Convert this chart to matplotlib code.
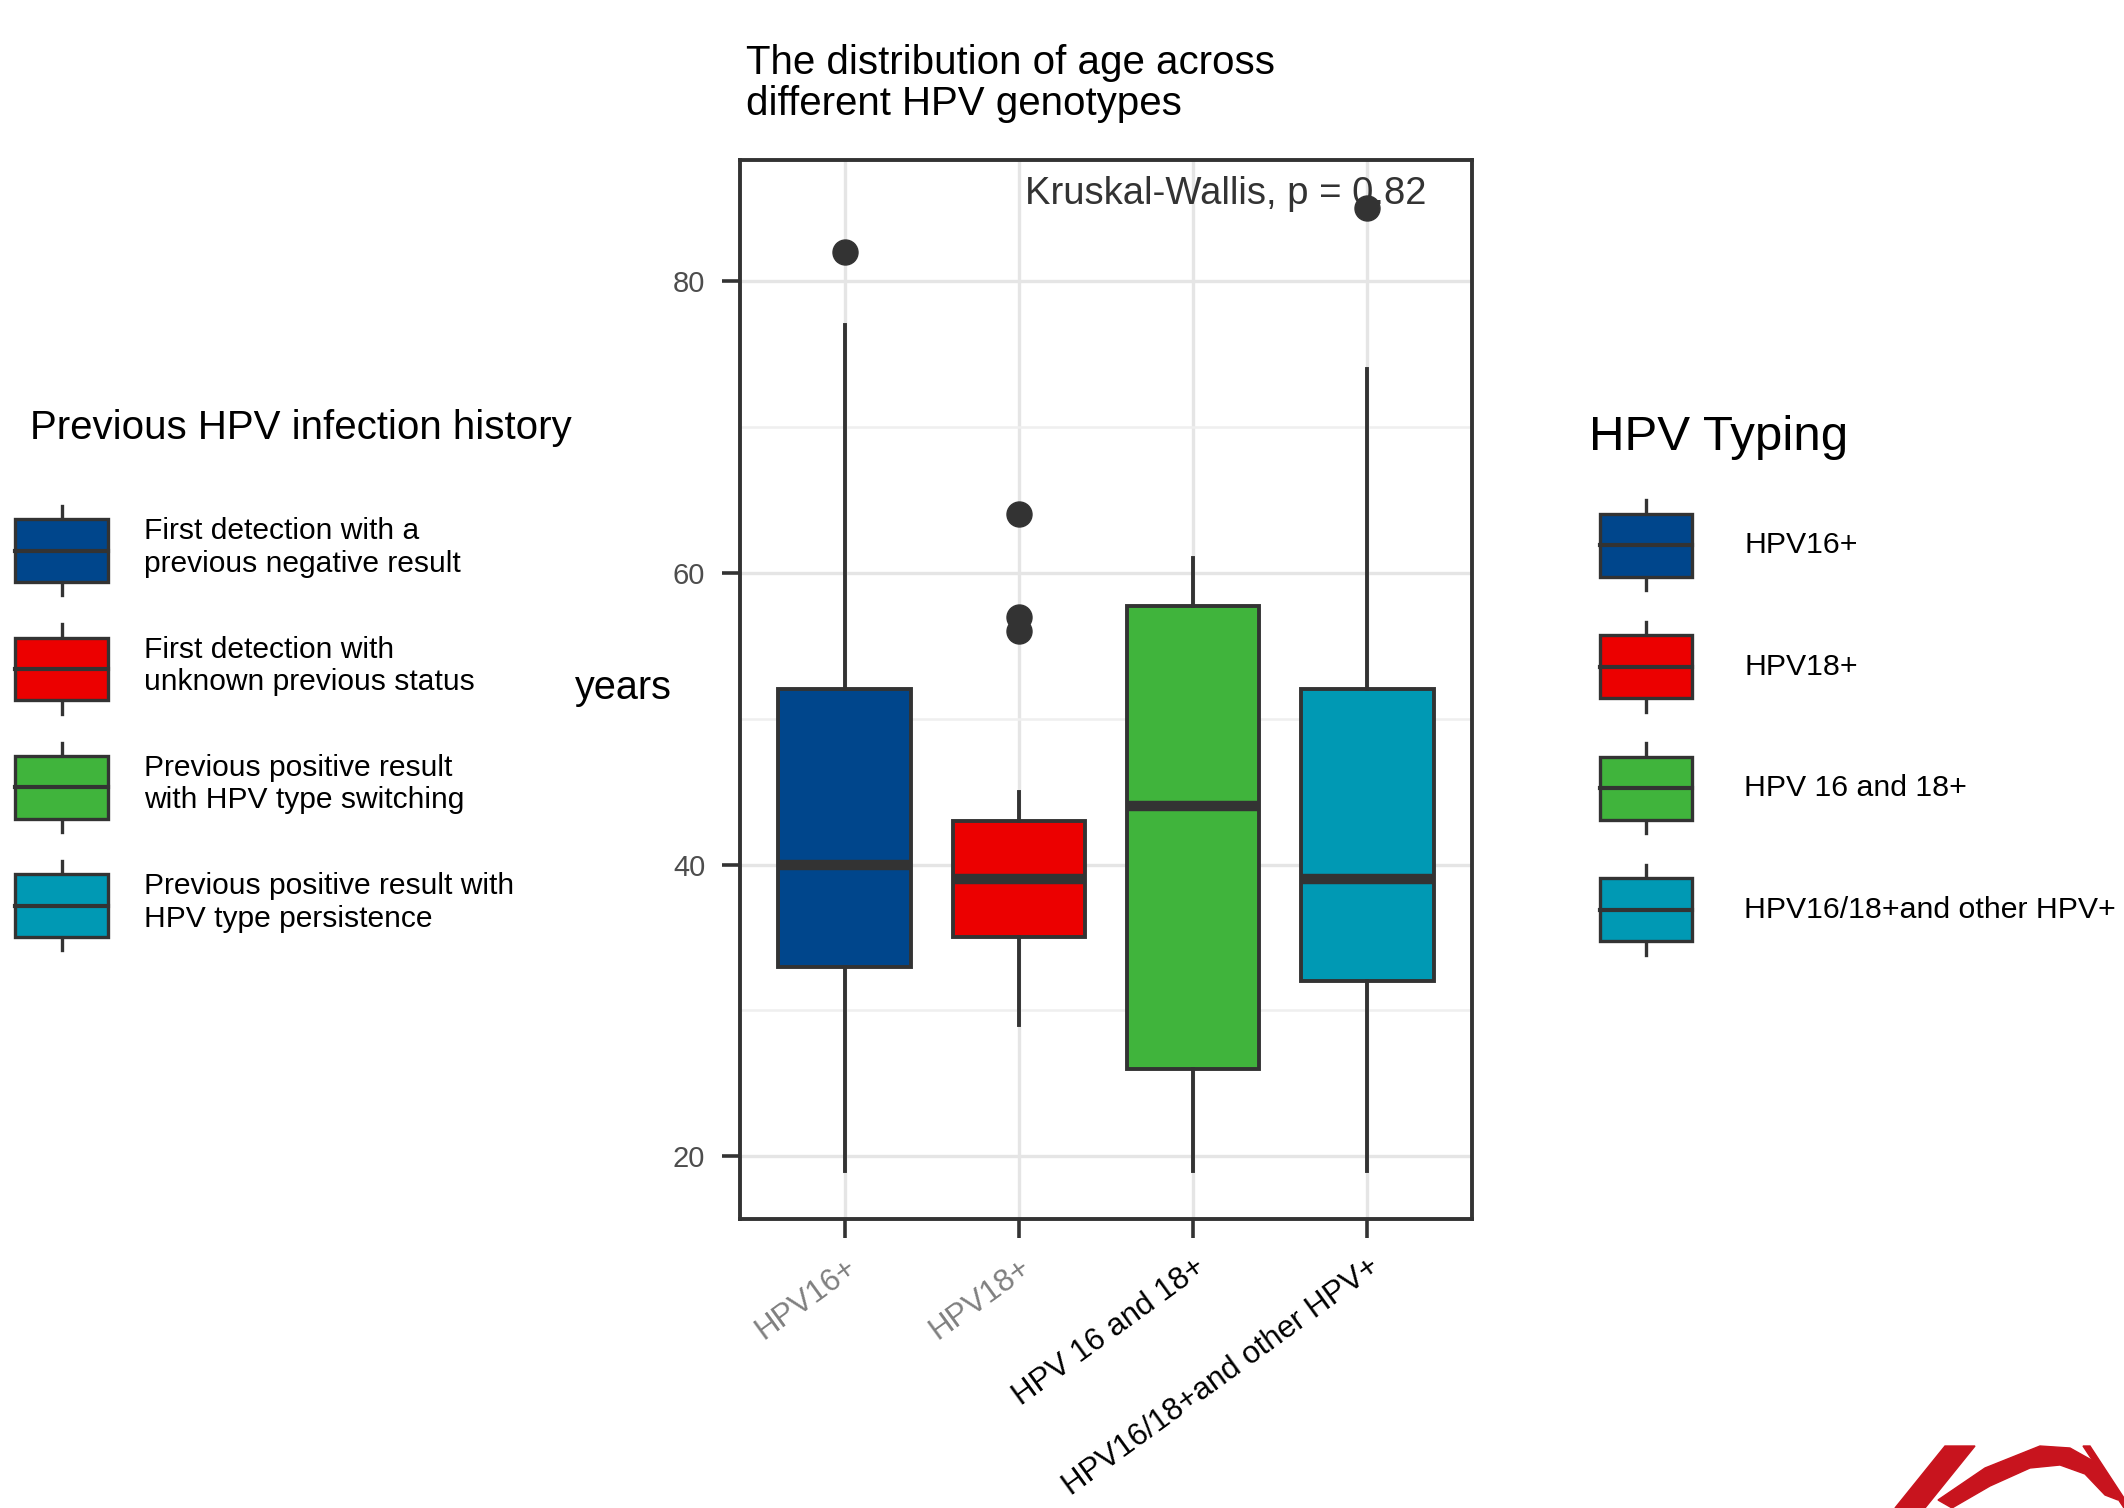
import matplotlib
matplotlib.use('Agg')
import matplotlib.pyplot as plt
from matplotlib.legend_handler import HandlerBase
from matplotlib.patches import Rectangle, Polygon
from matplotlib.lines import Line2D

plt.rcParams['font.family'] = ['Liberation Sans', 'DejaVu Sans']

# ---------------- data ----------------
categories = ["HPV16+", "HPV18+", "HPV 16 and 18+", "HPV16/18+and other HPV+"]
q1 = [33, 35, 26, 32]
medians = [40, 39, 44, 39]
q3 = [52, 43, 57.7, 52]
whisker_low = [19, 29, 19, 19]
whisker_high = [77, 45, 61, 74]
outliers = [[82], [64, 57, 56], [], [85]]
box_colors = ["#00468C", "#EC0000", "#40B43C", "#0099B4"]
tick_label_colors = ["#808080", "#808080", "#000000", "#000000"]
y_ticks = [20, 40, 60, 80]
y_minor_ticks = [30, 50, 70]
history_labels = ["First detection with a\nprevious negative result",
                  "First detection with\nunknown previous status",
                  "Previous positive result\nwith HPV type switching",
                  "Previous positive result with\nHPV type persistence"]
typing_labels = ["HPV16+", "HPV18+", "HPV 16 and 18+", "HPV16/18+and other HPV+"]
stat_label = "Kruskal-Wallis, p = 0.82"

W, H, DPI = 2124, 1508, 100
DARK = "#333333"

fig = plt.figure(figsize=(W / DPI, H / DPI), dpi=DPI, facecolor='white')

# ---------------- main panel ----------------
ax = fig.add_axes([740 / W, 1 - 1219 / H, 732 / W, 1059 / H])
stats = []
for i, c in enumerate(categories):
    stats.append(dict(label=c, q1=q1[i], med=medians[i], q3=q3[i],
                      whislo=whisker_low[i], whishi=whisker_high[i],
                      fliers=outliers[i]))
positions = list(range(1, len(categories) + 1))
bp = ax.bxp(stats, positions=positions, widths=0.76, patch_artist=True,
            showcaps=False,
            boxprops=dict(edgecolor=DARK, linewidth=2.8),
            medianprops=dict(color=DARK, linewidth=7.5, solid_capstyle='butt'),
            whiskerprops=dict(color=DARK, linewidth=2.8),
            flierprops=dict(marker='o', markerfacecolor=DARK, markeredgecolor=DARK,
                            markersize=18, linestyle='none'))
for patch, col in zip(bp['boxes'], box_colors):
    patch.set_facecolor(col)

ax.set_xlim(0.4, len(categories) + 0.6)
ax.set_ylim(15.7, 88.3)
ax.set_yticks(y_ticks)
ax.set_yticks(y_minor_ticks, minor=True)
ax.set_xticks(positions)
ax.set_xticklabels(categories, rotation=36, ha='right', va='top',
                   rotation_mode='anchor', fontsize=22.5)
for lab, col in zip(ax.get_xticklabels(), tick_label_colors):
    lab.set_color(col)
ax.tick_params(axis='y', which='major', direction='out', length=13, width=2.6,
               color=DARK, labelsize=21, labelcolor='#4D4D4D', pad=12)
ax.tick_params(axis='x', which='major', direction='out', length=14, width=2.6,
               color=DARK, pad=10)
ax.tick_params(which='minor', length=0)
ax.set_axisbelow(True)
ax.grid(which='major', color='#E5E5E5', linewidth=2.4)
ax.grid(which='minor', axis='y', color='#EFEFEF', linewidth=1.8)
for sp in ax.spines.values():
    sp.set_color(DARK)
    sp.set_linewidth(2.8)

ax.text(0.937, 0.968, stat_label, transform=ax.transAxes, ha='right', va='center',
        fontsize=27.5, color=DARK)

fig.text(746 / W, 1 - 44 / H, "The distribution of age across\ndifferent HPV genotypes",
         ha='left', va='top', fontsize=29, linespacing=1.1)
fig.text(623 / W, 1 - 688 / H, "years", ha='center', va='center', fontsize=28.5)

# ---------------- legends ----------------
class BoxHandler(HandlerBase):
    def __init__(self, whisk_frac=0.15, **kw):
        super().__init__(**kw)
        self.wf = whisk_frac

    def create_artists(self, legend, orig_handle, xdescent, ydescent, width, height,
                       fontsize, trans):
        x0, y0 = -xdescent, -ydescent
        xc = x0 + width / 2
        wl = Line2D([xc, xc], [y0, y0 + height], color=DARK, lw=2.4, transform=trans)
        bx = Rectangle((x0, y0 + height * self.wf), width, height * (1 - 2 * self.wf),
                       facecolor=orig_handle.get_facecolor(), edgecolor=DARK, lw=2.4,
                       transform=trans)
        md = Line2D([x0, x0 + width], [y0 + height / 2] * 2, color=DARK, lw=3.0,
                    transform=trans)
        return [wl, bx, md]


handles = [Rectangle((0, 0), 1, 1, facecolor=c) for c in box_colors]

fig.text(30 / W, 1 - 428 / H, "Previous HPV infection history", ha='left', va='center',
         fontsize=29)
fig.legend(handles, history_labels, loc='upper left',
           bbox_to_anchor=(15 / W, 1 - 506 / H), bbox_transform=fig.transFigure,
           frameon=False, fontsize=21.6, handlelength=3.1, handleheight=4.2,
           handletextpad=1.2, labelspacing=0.97, borderpad=0, borderaxespad=0,
           handler_map={Rectangle: BoxHandler(0.15)})

fig.text(1589 / W, 1 - 437 / H, "HPV Typing", ha='left', va='center', fontsize=35.5)
fig.legend(handles, typing_labels, loc='upper left',
           bbox_to_anchor=(1600 / W, 1 - 500 / H), bbox_transform=fig.transFigure,
           frameon=False, fontsize=21.8, handlelength=3.03, handleheight=4.2,
           handletextpad=1.73, labelspacing=1.04, borderpad=0, borderaxespad=0,
           handler_map={Rectangle: BoxHandler(0.15)})

# ---------------- logo fragment (decoration) ----------------
ov = fig.add_axes([0, 0, 1, 1], zorder=-1)
ov.set_xlim(0, W)
ov.set_ylim(H, 0)
ov.axis('off')
red = "#C8141E"
ov.add_patch(Polygon([(1895, 1508), (1945, 1446), (1975, 1446), (1925, 1508)], color=red))
ov.add_patch(Polygon([(1938, 1500), (1985, 1468), (2040, 1446), (2070, 1448), (2095, 1462),
                      (2118, 1500), (2105, 1495), (2085, 1474), (2060, 1465), (2030, 1468),
                      (1990, 1486), (1952, 1508)], color=red))
ov.add_patch(Polygon([(2083, 1446), (2090, 1446), (2124, 1498), (2124, 1508)], color=red))

fig.savefig("out.png", dpi=DPI, facecolor='white')
